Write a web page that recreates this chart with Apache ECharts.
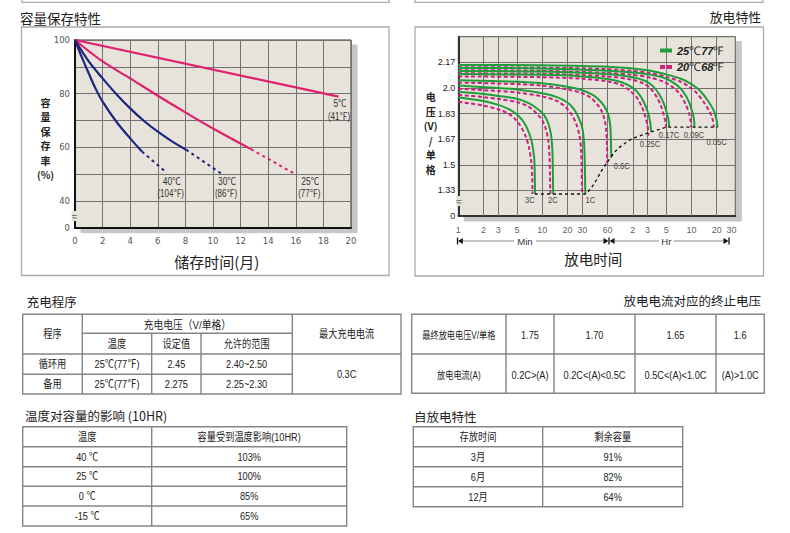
<!DOCTYPE html>
<html>
<head>
<meta charset="utf-8">
<title>电池特性</title>
<script src="https://cdn.jsdelivr.net/npm/echarts@6/dist/echarts.min.js"></script>
<style>
html,body{margin:0;padding:0;background:#ffffff;}
#chart{width:790px;height:533px;}
</style>
</head>
<body>
<div id="chart"></div>
<script>
// ================= DATA =================
// 容量保存特性 : [months, %]
const retentionYLabels = {100: '100', 80: '80', 60: '60', 40: '40', 30: '0'};
const ret5C = [[0, 100], [19.1, 78.9]];
const ret25CSolid = [[0, 100], [2, 92], [4, 85.7], [6, 79.2], [8, 73], [10, 67], [12.75, 59.3]];
const ret25CDash = [[12.75, 59.3], [15.85, 50.3]];
const ret30CSolid = [[0, 100], [1, 92], [2, 85.7], [3, 79.8], [4, 74.5], [5, 69.8], [6, 65.8], [7, 62.3], [8.05, 59.1]];
const ret30CDash = [[8.05, 59.1], [10.65, 50]];
const ret40CSolid = [[0, 100], [0.5, 93.5], [1, 87.5], [1.5, 81.8], [2, 77], [3, 69.5], [4, 63.3], [4.85, 58.4]];
const ret40CDash = [[4.85, 58.4], [6.65, 50.5]];
const retCurveLabels = [['40℃', '(104℉)'], ['30℃', '(86℉)'], ['25℃', '(77℉)'], ['5℃', '(41℉)']];
const retYTitle = ['容', '量', '保', '存', '率', '(%)'];

// 放电特性 : [minutes, V/cell]
const dischargeXTicks = [1, 2, 3, 5, 10, 20, 30, 60, 120, 180, 300, 600, 1200, 1800];
const dischargeXTickLabels = ['1', '2', '3', '5', '10', '20', '30', '60', '2', '3', '5', '10', '20', '30'];
const dischargeXGrid = [2, 3, 5, 10, 20, 30, 60, 120, 180, 300, 600, 1200];
const dischargeYLabels = ['0', '1.33', '1.5', '1.67', '1.83', '2.0', '2.17', ''];
const dischargeYTitle = ['电', '压', '(V)', '/', '单', '格'];
const rateLabels = ['3C', '2C', '1C', '0.6C', '0.25C', '0.17C', '0.09C', '0.05C'];
const legendNames = ['25℃77℉', '20℃68℉'];

const g3C = [[1,1.94],[2,1.915],[3,1.89],[4,1.862],[4.8,1.835],[5.8,1.79],[6.7,1.73],[7.5,1.65],[8,1.55],[8.15,1.45],[8.2,1.31]];
const g2C = [[1,1.975],[2,1.96],[3,1.948],[5,1.93],[7,1.9],[9,1.86],[10.5,1.825],[11.8,1.77],[12.7,1.7],[13.2,1.6],[13.4,1.45],[13.5,1.31]];
const g1C = [[1,2.015],[3,2.0],[5,1.99],[10,1.965],[15,1.94],[20,1.905],[24,1.86],[27.5,1.8],[30,1.74],[31.5,1.65],[32.2,1.5],[32.6,1.31]];
const g06C = [[1,2.05],[5,2.04],[10,2.03],[20,2.008],[30,1.985],[40,1.955],[48,1.92],[55,1.88],[61,1.83],[64.5,1.76],[66,1.65],[66.3,1.545]];
const g025C = [[1,2.09],[10,2.085],[30,2.075],[60,2.058],[90,2.035],[120,2.0],[145,1.955],[165,1.9],[182,1.84],[193,1.78],[198,1.715]];
const g017C = [[1,2.11],[10,2.107],[60,2.09],[120,2.07],[170,2.045],[210,2.01],[250,1.955],[285,1.89],[310,1.825],[322,1.78],[325,1.745]];
const g009C = [[1,2.13],[10,2.127],[60,2.112],[120,2.1],[200,2.085],[300,2.06],[400,2.02],[480,1.975],[560,1.91],[615,1.845],[645,1.79],[652,1.745]];
const g005C = [[1,2.15],[10,2.147],[60,2.137],[180,2.115],[300,2.088],[450,2.06],[600,2.025],[750,1.985],[935,1.92],[1100,1.856],[1190,1.8],[1225,1.745]];

const p3C = [[1,1.91],[2,1.885],[3,1.86],[4,1.832],[4.6,1.805],[5.4,1.76],[6.2,1.7],[6.9,1.62],[7.4,1.52],[7.6,1.42],[7.65,1.31]];
const p2C = [[1,1.955],[2,1.94],[3,1.928],[5,1.908],[7,1.875],[8.7,1.83],[10,1.79],[11,1.735],[11.8,1.66],[12.2,1.56],[12.4,1.42],[12.5,1.31]];
const p1C = [[1,1.995],[3,1.98],[5,1.97],[10,1.945],[15,1.915],[19,1.875],[22.5,1.825],[25.5,1.765],[27.8,1.69],[29,1.6],[29.6,1.45],[29.8,1.31]];
const p06C = [[1,2.035],[5,2.025],[10,2.015],[20,1.99],[30,1.965],[38,1.935],[45,1.895],[51,1.85],[55.5,1.79],[58,1.72],[59.2,1.62],[59.5,1.51]];
const p025C = [[1,2.075],[10,2.07],[30,2.06],[60,2.042],[88,2.018],[112,1.98],[135,1.935],[153,1.88],[168,1.82],[179,1.76],[185,1.69]];
const p017C = [[1,2.095],[10,2.092],[60,2.075],[120,2.052],[165,2.025],[200,1.99],[235,1.935],[265,1.87],[287,1.805],[297,1.77],[300,1.745]];
const p009C = [[1,2.115],[10,2.112],[60,2.097],[120,2.085],[190,2.068],[280,2.04],[370,2.0],[445,1.955],[515,1.89],[565,1.83],[590,1.78],[596,1.745]];
const p005C = [[1,2.135],[10,2.132],[60,2.122],[180,2.1],[300,2.072],[440,2.042],[570,2.005],[700,1.965],[860,1.9],[1000,1.84],[1080,1.79],[1110,1.745]];

const cutoffLine = [[8.2,1.31],[32.6,1.31],[37,1.34],[42,1.38],[49,1.445],[59,1.513],[77,1.596],[100,1.645],[122,1.672],[160,1.696],[194,1.712],[250,1.73],[310,1.745],[1228,1.745]];

// 表格
const chargeHeader = ['程序', '充电电压（V/单格）', '最大充电电流'];
const chargeSubHeader = ['温度', '设定值', '允许的范围'];
const chargeRows = [['循环用', '25℃(77℉)', '2.45', '2.40~2.50'], ['备用', '25℃(77℉)', '2.275', '2.25~2.30']];
const chargeMaxCurrent = '0.3C';
const cutoffRows = [['最终放电电压V/单格', '1.75', '1.70', '1.65', '1.6'], ['放电电流(A)', '0.2C>(A)', '0.2C<(A)<0.5C', '0.5C<(A)<1.0C', '(A)>1.0C']];
const tempHeader = ['温度', '容量受到温度影响(10HR)'];
const tempRows = [['40 ℃', '103%'], ['25 ℃', '100%'], ['0 ℃', '85%'], ['-15 ℃', '65%']];
const selfHeader = ['存放时间', '剩余容量'];
const selfRows = [['3月', '91%'], ['6月', '82%'], ['12月', '64%']];
const titles = ['容量保存特性', '放电特性', '充电程序', '放电电流对应的终止电压', '温度对容量的影响 (10HR)', '自放电特性'];

// ================= STYLE / LAYOUT =================
const CJK = "'Noto Sans CJK SC', sans-serif";
const TBL = "'Liberation Sans', 'Noto Sans CJK SC', sans-serif";
const PINK_L = '#e0206f', NAVY = '#1c2580', GREEN = '#1f9e3c', PINK_D = '#cf1f7c';
const GRIDC = '#727272', PLOTBG = '#e7e3da';
const LG = {left: 75, top: 40, width: 276, height: 187.7};
const RG = {left: 458.3, top: 36.7, width: 277, height: 179.3};

const chart = echarts.init(document.getElementById('chart'), null, {renderer: 'svg', width: 790, height: 533});

function retLine(name, data, color, dashed, smooth) {
  return {type: 'line', name, xAxisIndex: 0, yAxisIndex: 0, data, symbol: 'none', silent: true,
    smooth: smooth ? 0.35 : false, z: 3,
    lineStyle: {color, width: dashed ? 2 : 2.2, type: dashed ? [3, 3.5] : 'solid'}, itemStyle: {color}};
}
function disLine(name, data, color, dashed) {
  return {type: 'line', name, xAxisIndex: 1, yAxisIndex: 1, data, symbol: 'none', silent: true,
    smooth: 0.3, z: dashed ? 3 : 4,
    lineStyle: {color, width: 2, type: dashed ? [4, 2.5] : 'solid'}, itemStyle: {color}};
}

const greens = [g3C, g2C, g1C, g06C, g025C, g017C, g009C, g005C];
const pinks = [p3C, p2C, p1C, p06C, p025C, p017C, p009C, p005C];

const series = [
  retLine('5℃', ret5C, PINK_L, false, false),
  retLine('25℃', ret25CSolid, PINK_L, false, true),
  retLine('25℃ ext', ret25CDash, PINK_L, true, false),
  retLine('30℃', ret30CSolid, NAVY, false, true),
  retLine('30℃ ext', ret30CDash, NAVY, true, false),
  retLine('40℃', ret40CSolid, NAVY, false, true),
  retLine('40℃ ext', ret40CDash, NAVY, true, false),
  {
    type: 'scatter', name: 'ticks', xAxisIndex: 1, yAxisIndex: 1, silent: true, clip: false,
    data: dischargeXTicks.map(v => [v, 7 / 6]), symbolSize: 0,
    label: {show: true, position: 'bottom', distance: 9, formatter: p => dischargeXTickLabels[p.dataIndex],
      color: '#333', fontSize: 9, fontFamily: 'Liberation Sans'},
    markLine: {silent: true, symbol: ['none', 'none'], z: 1, animation: false, label: {show: false},
      emphasis: {disabled: true},
      lineStyle: {color: GRIDC, width: 1, type: 'solid'}, data: dischargeXGrid.map(v => ({xAxis: v}))}
  }
];
pinks.forEach(d => series.push(disLine(legendNames[1], d, PINK_D, true)));
greens.forEach(d => series.push(disLine(legendNames[0], d, GREEN, false)));
series.push({type: 'line', name: 'cutoff', xAxisIndex: 1, yAxisIndex: 1, data: cutoffLine, symbol: 'none',
  silent: true, smooth: 0.3, z: 5, lineStyle: {color: '#111', width: 1.4, type: [3, 3]}});

// ================= GRAPHIC (boxes, titles, tables) =================
const G = [];
const txt = (x, y, text, o = {}) => ({type: 'text', x, y, z: 50, scaleX: o.sx || 1, style: {
  text, fill: o.color || '#222', fontSize: o.fs || 12, fontFamily: o.ff || CJK, fontWeight: o.fw || 'normal',
  align: o.align || 'center', verticalAlign: 'middle', lineHeight: o.lh}});
const rectB = (x, y, w, h, c, lw) => ({type: 'rect', z: 40, shape: {x, y, width: w, height: h},
  style: {fill: 'none', stroke: c, lineWidth: lw}});
const ln = (x1, y1, x2, y2, c, lw) => ({type: 'line', z: 40, shape: {x1, y1, x2, y2}, style: {stroke: c, lineWidth: lw}});
const tri = (pts) => ({type: 'polygon', z: 50, shape: {points: pts}, style: {fill: '#111'}});

// remains of previous boxes at top, chart boxes
G.push(rectB(22, -10, 367, 12.3, '#ababab', 1.3), rectB(415, -10, 348, 12.3, '#ababab', 1.3));
G.push(rectB(21.5, 27, 367.5, 248.5, '#ababab', 1.3), rectB(415, 27, 348.5, 249, '#ababab', 1.3));
// chart titles
G.push(txt(20, 17.5, titles[0], {fs: 13.5, align: 'left'}));
G.push(txt(761, 16, titles[1], {fs: 12.8, align: 'right'}));
// axis titles (vertical, one glyph group per row)
retYTitle.forEach((t, i) => G.push(txt(45.5, 102 + i * 14.5, t, {fs: 10, fw: 'bold'})));
dischargeYTitle.forEach((t, i) => G.push(txt(430.7, 96.5 + i * 14.5, t, {fs: 10, fw: 'bold'})));
G.push(txt(216.7, 261.5, '储存时间(月)', {fs: 15}));
G.push(txt(593.3, 258.5, '放电时间', {fs: 14.5}));
// axis break marks
G.push({type: 'text', x: 74.5, y: 216, z: 60, style: {text: '≈', fontSize: 10, fill: '#555', align: 'center',
  verticalAlign: 'middle', backgroundColor: PLOTBG, padding: [0, 0]}});
G.push({type: 'text', x: 459, y: 201, z: 60, style: {text: '≈', fontSize: 10, fill: '#555', align: 'center',
  verticalAlign: 'middle', backgroundColor: PLOTBG, padding: [0, 0]}});
// retention curve labels
const retLabelPos = [[171.7, 181.7], [227, 181.7], [310.3, 181.7], [340, 104]];
retCurveLabels.forEach((l, i) => {
  G.push(txt(retLabelPos[i][0], retLabelPos[i][1], l[0], {fs: 10, ff: TBL, color: '#333', sx: 0.85}));
  G.push(txt(retLabelPos[i][0] - 1, retLabelPos[i][1] + 12.3, l[1], {fs: 10, ff: TBL, color: '#333', sx: 0.8}));
});
// discharge rate labels
const rateLabelPos = [[530, 200.5], [553, 200.5], [590.5, 200.5], [621.7, 166], [650, 144.5], [669, 135], [694, 135], [716.7, 142.7]];
rateLabels.forEach((l, i) => G.push(txt(rateLabelPos[i][0], rateLabelPos[i][1], l, {fs: 8.5, ff: TBL, color: '#444', sx: 0.9})));
// Min / Hr arrows
const AY = 241;
G.push(ln(457.5, AY - 3.5, 457.5, AY + 3.5, '#111', 1.3), tri([[458, AY], [462.8, AY - 3], [462.8, AY + 3]]));
G.push(ln(462.8, AY, 514, AY, '#888', 1), ln(536, AY, 603.5, AY, '#888', 1));
G.push(tri([[608.5, AY], [603.5, AY - 3], [603.5, AY + 3]]), ln(609, AY - 3.5, 609, AY + 3.5, '#111', 1.3),
  tri([[609.5, AY], [614.5, AY - 3], [614.5, AY + 3]]));
G.push(ln(614.5, AY, 659, AY, '#888', 1), ln(673.5, AY, 723.5, AY, '#888', 1));
G.push(tri([[728.5, AY], [723.5, AY - 3], [723.5, AY + 3]]), ln(729, AY - 3.5, 729, AY + 3.5, '#111', 1.3));
G.push(txt(525, AY + 0.5, 'Min', {fs: 9.5, ff: TBL, color: '#333'}));
G.push(txt(666.3, AY + 0.5, 'Hr', {fs: 9.5, ff: TBL, color: '#333'}));

// ---- tables ----
const TB = '#858585', TW = 1.4;
const cell = (x, y, t, o = {}) => txt(x, y, t, Object.assign({fs: 11.5, ff: TBL, sx: 0.8, color: '#222'}, o));
// table titles
G.push(txt(26.7, 301, titles[2], {fs: 12.5, align: 'left'}));
G.push(txt(761, 300.7, titles[3], {fs: 12.5, align: 'right'}));
G.push(txt(25, 415, titles[4], {fs: 12.5, align: 'left'}));
G.push(txt(414, 416.7, titles[5], {fs: 12.5, align: 'left'}));

// table 1 : 充电程序
(function () {
  const c = [22.7, 82.3, 151.7, 201, 292.3, 401], r = [314.3, 333.3, 354, 374.3, 394];
  G.push(rectB(c[0], r[0], c[5] - c[0], r[4] - r[0], TB, TW));
  G.push(ln(c[1], r[0], c[1], r[4], TB, TW), ln(c[4], r[0], c[4], r[4], TB, TW));
  G.push(ln(c[2], r[1], c[2], r[4], TB, TW), ln(c[3], r[1], c[3], r[4], TB, TW));
  G.push(ln(c[1], r[1], c[4], r[1], TB, TW), ln(c[0], r[2], c[5], r[2], TB, TW), ln(c[0], r[3], c[4], r[3], TB, TW));
  const mid = (a, b) => (a + b) / 2;
  G.push(cell(mid(c[0], c[1]), mid(r[0], r[2]), chargeHeader[0]));
  G.push(cell(mid(c[1], c[4]), mid(r[0], r[1]) + 0.5, chargeHeader[1], {sx: 0.85}));
  G.push(cell(mid(c[4], c[5]), mid(r[0], r[2]), chargeHeader[2]));
  chargeSubHeader.forEach((t, i) => G.push(cell(mid(c[i + 1], c[i + 2]), mid(r[1], r[2]), t)));
  chargeRows.forEach((row, ri) => row.forEach((t, ci) => G.push(cell(mid(c[ci], c[ci + 1]), mid(r[ri + 2], r[ri + 3]), t))));
  G.push(cell(mid(c[4], c[5]), mid(r[2], r[4]), chargeMaxCurrent));
})();
// table 2 : 终止电压
(function () {
  const c = [411.7, 506, 554, 635, 716, 764.3], r = [314.3, 354, 393.3];
  G.push(rectB(c[0], r[0], c[5] - c[0], r[2] - r[0], TB, TW));
  for (let i = 1; i < 5; i++) G.push(ln(c[i], r[0], c[i], r[2], TB, TW));
  G.push(ln(c[0], r[1], c[5], r[1], TB, TW));
  cutoffRows.forEach((row, ri) => row.forEach((t, ci) => G.push(cell((c[ci] + c[ci + 1]) / 2, (r[ri] + r[ri + 1]) / 2 + 1, t,
    ci === 0 ? {fs: 10.5, sx: 0.78} : {}))));
})();
// table 3 : 温度影响
(function () {
  const c = [22.7, 151.7, 346.7], r = [426.7, 446.7, 466.7, 486.3, 506, 526];
  G.push(rectB(c[0], r[0], c[2] - c[0], r[5] - r[0], TB, TW), ln(c[1], r[0], c[1], r[5], TB, TW));
  for (let i = 1; i < 5; i++) G.push(ln(c[0], r[i], c[2], r[i], TB, TW));
  [tempHeader].concat(tempRows).forEach((row, ri) => row.forEach((t, ci) =>
    G.push(cell((c[ci] + c[ci + 1]) / 2, (r[ri] + r[ri + 1]) / 2, t))));
})();
// table 4 : 自放电
(function () {
  const c = [413.3, 542.7, 682.7], r = [426.7, 446.7, 466.7, 486.7, 506.7];
  G.push(rectB(c[0], r[0], c[2] - c[0], r[4] - r[0], TB, TW), ln(c[1], r[0], c[1], r[4], TB, TW));
  for (let i = 1; i < 4; i++) G.push(ln(c[0], r[i], c[2], r[i], TB, TW));
  [selfHeader].concat(selfRows).forEach((row, ri) => row.forEach((t, ci) =>
    G.push(cell((c[ci] + c[ci + 1]) / 2, (r[ri] + r[ri + 1]) / 2, t))));
})();

// ================= OPTION =================
const option = {
  animation: false,
  backgroundColor: '#ffffff',
  grid: [
    Object.assign({show: true, backgroundColor: PLOTBG, borderColor: '#333', borderWidth: 1,
      shadowColor: '#c6c6c6', shadowOffsetX: 6, shadowOffsetY: 5, shadowBlur: 0}, LG),
    Object.assign({show: true, backgroundColor: PLOTBG, borderColor: '#555', borderWidth: 1,
      shadowColor: '#c6c6c6', shadowOffsetX: 6, shadowOffsetY: 5, shadowBlur: 0}, RG)
  ],
  xAxis: [
    {type: 'value', gridIndex: 0, min: 0, max: 20, interval: 2,
      axisLine: {show: true, onZero: false, lineStyle: {color: '#111', width: 2}},
      axisTick: {show: false},
      axisLabel: {color: '#555', fontSize: 8.5, margin: 9, fontFamily: 'DejaVu Sans'},
      splitLine: {show: true, lineStyle: {color: GRIDC, width: 1}}},
    {type: 'log', logBase: 10, gridIndex: 1, min: 1, max: 2000,
      axisLine: {show: true, onZero: false, lineStyle: {color: '#333', width: 2}},
      axisTick: {show: false}, axisLabel: {show: false},
      splitLine: {show: false}, minorSplitLine: {show: false}}
  ],
  yAxis: [
    {type: 'value', gridIndex: 0, min: 30, max: 100, interval: 10,
      axisLine: {show: true, onZero: false, lineStyle: {color: '#111', width: 2}},
      axisTick: {show: false},
      axisLabel: {color: '#555', fontSize: 8.5, margin: 5, fontFamily: 'DejaVu Sans',
        formatter: v => retentionYLabels[Math.round(v)] || ''},
      splitLine: {show: true, lineStyle: {color: GRIDC, width: 1}}},
    {type: 'value', gridIndex: 1, min: 7 / 6, max: 14 / 6, interval: 1 / 6,
      axisLine: {show: true, onZero: false, lineStyle: {color: '#333', width: 2}},
      axisTick: {show: false},
      axisLabel: {color: '#222', fontSize: 9, margin: 3, fontFamily: 'Liberation Sans',
        formatter: v => dischargeYLabels[Math.round(v * 6) - 7] || ''},
      splitLine: {show: true, lineStyle: {color: GRIDC, width: 1}}}
  ],
  legend: {
    left: 660, top: 44.5, orient: 'vertical', itemWidth: 12, itemHeight: 4, itemGap: 4.5,
    selectedMode: false, padding: 0,
    data: [
      {name: legendNames[0], icon: 'rect', itemStyle: {color: GREEN}},
      {name: legendNames[1], icon: 'path://M0 0H5V4H0Z M7 0H12V4H7Z', itemStyle: {color: PINK_D}}
    ],
    formatter: n => n.replace(/(\d+)/g, '{b|$1}'),
    textStyle: {fontFamily: 'Liberation Serif', fontSize: 12, color: '#333', lineHeight: 12,
      rich: {b: {fontFamily: 'Liberation Sans', fontSize: 11, fontWeight: 'bold', fontStyle: 'italic', color: '#222'}}}
  },
  series,
  graphic: {elements: G}
};
chart.setOption(option);
</script>
</body>
</html>
